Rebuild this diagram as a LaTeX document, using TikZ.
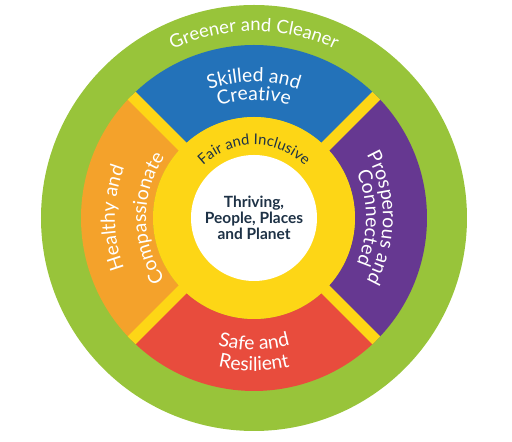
\documentclass[tikz,border=0pt]{standalone}
\usepackage{fontspec}
\setmainfont{Lato}
\usetikzlibrary{decorations.text}
\definecolor{greener}{RGB}{152,196,58}
\definecolor{skill}{RGB}{35,114,185}
\definecolor{prosper}{RGB}{102,56,145}
\definecolor{safe}{RGB}{232,76,61}
\definecolor{health}{RGB}{244,162,43}
\definecolor{fair}{RGB}{253,214,22}
\definecolor{ink}{RGB}{30,50,70}
\newcommand\segfont{\fontsize{11}{12}\selectfont}
\newcommand\ringfont{\fontsize{10.5}{12}\selectfont}
\newcommand\fairfont{\fontsize{8.4}{10}\selectfont}
\tikzset{
  arctext/.style={decorate,decoration={text along path,text align=center,text color=white,text={|\segfont|#1}}},
  ringtext/.style={decorate,decoration={text along path,text align=center,text color=white,text={|\ringfont|#1}}},
  fairtext/.style={decorate,decoration={text along path,text align=center,text color=ink,text={|\fairfont|#1}}}
}
\begin{document}
\begin{tikzpicture}[x=0.02cm,y=0.02cm]
        \useasboundingbox (-254,-224) rectangle (258,218);
        %% rings and segments
        \fill[greener] (0,0) circle[radius=213];
        \foreach \a/\col in {90/skill,0/prosper,-90/safe,180/health}
            \fill[\col] ({\a-45}:101) arc[start angle=\a-45,end angle=\a+45,radius=101]
                -- ({\a+45}:173) arc[start angle=\a+45,end angle=\a-45,radius=173] -- cycle;
        \fill[fair] (0,0) circle[radius=101];
        \foreach \a in {45,135} \draw[fair,line width=0.22cm] (\a:173) -- (\a+180:173);
        \fill[white] (0,0) circle[radius=63];
        %% labels
        \node[font=\fontsize{8.8}{9}\selectfont\bfseries,text=ink,align=center] (hub) at (0,0) {Thriving,\\People, Places\\and Planet};
        \path[ringtext={Greener and Cleaner}] (150:187) arc[start angle=150,end angle=30,radius=187];
        \path[fairtext={Fair and Inclusive}] (160:73) arc[start angle=160,end angle=20,radius=73];
        \path[arctext={Skilled and}] (135:136) arc[start angle=135,end angle=45,radius=136];
        \path[arctext={Creative}] (135:118) arc[start angle=135,end angle=45,radius=118];
        \path[arctext={Prosperous and}] (45:129) arc[start angle=45,end angle=-45,radius=129];
        \path[arctext={Connected}] (45:112) arc[start angle=45,end angle=-45,radius=112];
        \path[arctext={Safe and}] (225:132) arc[start angle=225,end angle=315,radius=132];
        \path[arctext={Resilient}] (225:153) arc[start angle=225,end angle=315,radius=153];
        \path[arctext={Healthy and}] (225:139) arc[start angle=225,end angle=135,radius=139];
        \path[arctext={Compassionate}] (225:108) arc[start angle=225,end angle=135,radius=108];
    \end{tikzpicture}
\end{document}
